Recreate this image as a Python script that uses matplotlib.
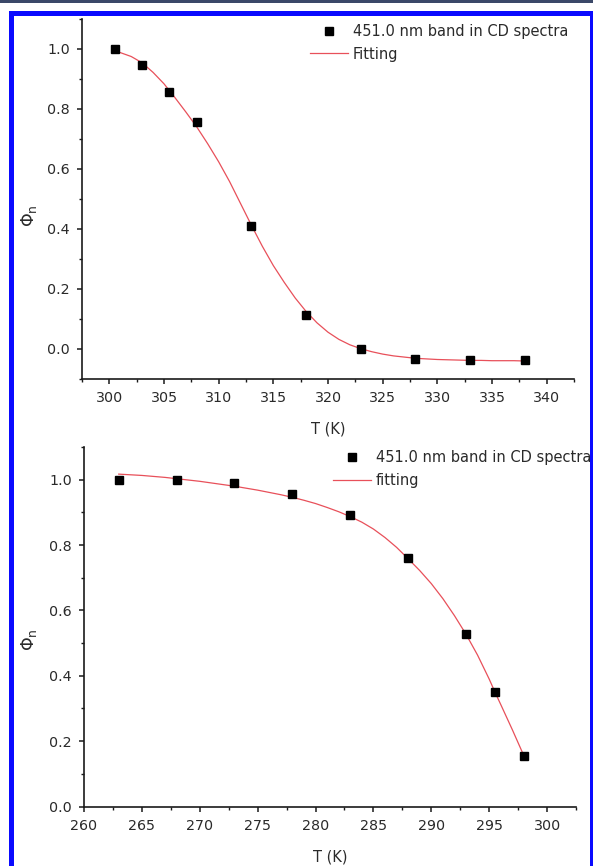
import matplotlib
matplotlib.use("Agg")
import matplotlib.pyplot as plt
from matplotlib.ticker import MultipleLocator, FormatStrFormatter
from matplotlib.patches import Rectangle

# ---------------- data ----------------
# Upper panel: measured points
T_top = [300.5, 303, 305.5, 308, 313, 318, 323, 328, 333, 338]
phi_top = [1.000, 0.947, 0.858, 0.757, 0.411, 0.112, 0.000, -0.032, -0.037, -0.036]
# Upper panel: fitted curve
T_top_fit = [300.5, 301, 302, 303, 304, 305, 306, 307, 308, 309, 310, 311, 312,
             313, 314, 315, 316, 317, 318, 319, 320, 321, 322, 323, 324, 325,
             326, 327, 328, 329, 330, 331, 332, 333, 334, 335, 336, 337, 338]
phi_top_fit = [0.993, 0.988, 0.975, 0.954, 0.922, 0.884, 0.838, 0.790, 0.740,
               0.684, 0.624, 0.558, 0.485, 0.412, 0.342, 0.278, 0.222, 0.170,
               0.125, 0.087, 0.056, 0.032, 0.014, 0.001, -0.009, -0.017,
               -0.023, -0.027, -0.031, -0.033, -0.035, -0.036, -0.037, -0.038,
               -0.038, -0.039, -0.039, -0.039, -0.040]

# Lower panel: measured points
T_bot = [263, 268, 273, 278, 283, 288, 293, 295.5, 298]
phi_bot = [1.000, 1.000, 0.990, 0.955, 0.891, 0.760, 0.527, 0.349, 0.153]
# Lower panel: fitted curve
T_bot_fit = [263, 264, 265, 266, 267, 268, 269, 270, 271, 272, 273, 274, 275,
             276, 277, 278, 279, 280, 281, 282, 283, 284, 285, 286, 287, 288,
             289, 290, 291, 292, 293, 294, 295, 295.5, 296, 297, 298]
phi_bot_fit = [1.017, 1.015, 1.013, 1.010, 1.007, 1.003, 0.999, 0.995, 0.990,
               0.985, 0.980, 0.974, 0.968, 0.961, 0.954, 0.946, 0.937, 0.927,
               0.915, 0.902, 0.887, 0.870, 0.849, 0.823, 0.793, 0.758, 0.722,
               0.682, 0.636, 0.584, 0.527, 0.463, 0.390, 0.350, 0.312, 0.235,
               0.155]

label_points = "451.0 nm band in CD spectra"
label_fit_top = "Fitting"
label_fit_bot = "fitting"
xlabel = "T (K)"
ylabel = r"$\Phi_\mathrm{n}$"

# ---------------- figure ----------------
W, H = 593, 866
fig = plt.figure(figsize=(W / 100, H / 100), dpi=100)
fig.patch.set_facecolor("white")

def px_rect(x0, y0, x1, y1, color):
    fig.patches.append(Rectangle((x0 / W, 1 - y1 / H), (x1 - x0) / W, (y1 - y0) / H,
                                 transform=fig.transFigure, facecolor=color,
                                 edgecolor="none", zorder=0))

# decorative frame
px_rect(0, 0, W, 3, "#3b4868")
px_rect(9, 10.5, W, 15.5, "#0a0aff")     # top blue edge
px_rect(9, 10.5, 14, H, "#0a0aff")       # left blue edge
px_rect(589.5, 10.5, W, H, "#0a0aff")    # right blue edge

RED = "#e8505a"
AX = "#1a1a1a"
TXT = "#2a2a2a"
FS = 10.3
LFS = 10.5

def style(ax, xlim, ylim):
    ax.set_xlim(*xlim)
    ax.set_ylim(*ylim)
    for s in ("top", "right"):
        ax.spines[s].set_visible(False)
    for s in ("left", "bottom"):
        ax.spines[s].set_color(AX)
        ax.spines[s].set_linewidth(1.2)
    ax.xaxis.set_major_locator(MultipleLocator(5))
    ax.xaxis.set_minor_locator(MultipleLocator(2.5))
    ax.yaxis.set_major_locator(MultipleLocator(0.2))
    ax.yaxis.set_minor_locator(MultipleLocator(0.1))
    ax.yaxis.set_major_formatter(FormatStrFormatter("%.1f"))
    ax.xaxis.set_major_formatter(FormatStrFormatter("%d"))
    ax.tick_params(which="major", direction="out", length=3.8, width=1.1,
                   color=AX, labelsize=FS, labelcolor=TXT, pad=5)
    ax.tick_params(which="minor", direction="out", length=2.2, width=1.0, color=AX)
    ax.set_xlabel(xlabel, fontsize=FS + 0.2, color=TXT, labelpad=12)
    ax.set_ylabel(ylabel, fontsize=12.5, color=TXT)

def legend(ax, fit_label, x_px, y_px, pts, fit):
    ax.legend([pts, fit], [label_points, fit_label], loc="upper left",
              bbox_to_anchor=(x_px / W, 1 - y_px / H), bbox_transform=fig.transFigure,
              frameon=False, borderpad=0, borderaxespad=0, handlelength=2.6,
              handletextpad=0.33, labelspacing=0.52, numpoints=1,
              prop={"size": LFS}, labelcolor=TXT)

# upper panel
ax1 = fig.add_axes([82 / W, 1 - 379 / H, 492 / W, 360 / H])
fit1, = ax1.plot(T_top_fit, phi_top_fit, color=RED, lw=0.9, zorder=2)
pts1, = ax1.plot(T_top, phi_top, ls="none", marker="s", ms=5.8, color="black", zorder=3)
style(ax1, (297.5, 342.5), (-0.1, 1.1))
ax1.yaxis.set_label_coords(-0.088, 0.455)
legend(ax1, label_fit_top, 310, 24, pts1, fit1)

# lower panel
ax2 = fig.add_axes([84 / W, 1 - 806.5 / H, 492 / W, 359.5 / H])
fit2, = ax2.plot(T_bot_fit, phi_bot_fit, color=RED, lw=0.9, zorder=2)
pts2, = ax2.plot(T_bot, phi_bot, ls="none", marker="s", ms=5.8, color="black", zorder=3,
                 clip_on=False)
style(ax2, (260, 302.5), (0, 1.1))
ax2.yaxis.set_label_coords(-0.092, 0.463)
legend(ax2, label_fit_bot, 333, 450.5, pts2, fit2)

fig.savefig("out.png", dpi=100, facecolor=fig.get_facecolor())
